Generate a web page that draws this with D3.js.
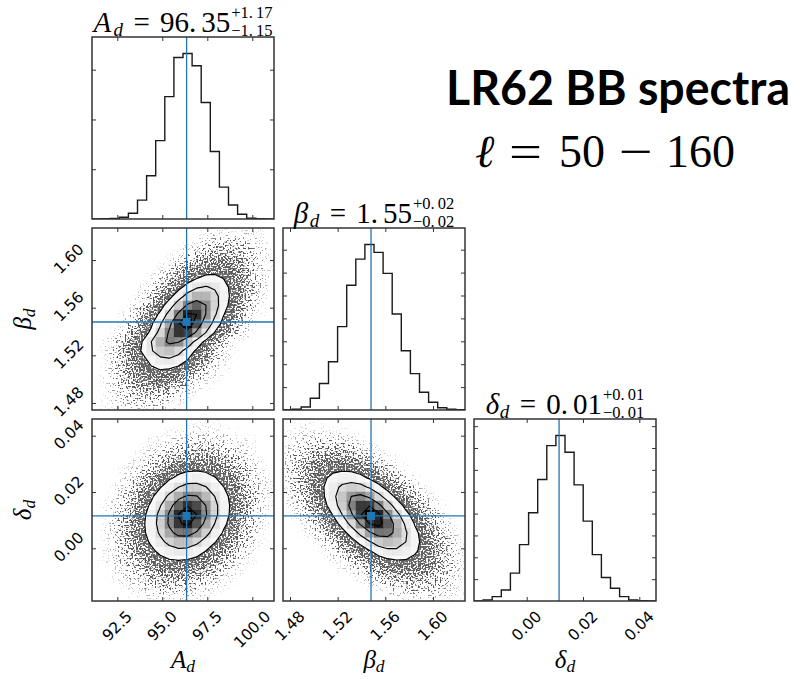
<!DOCTYPE html>
<html><head><meta charset="utf-8">
<script src="https://cdn.jsdelivr.net/npm/d3@7/dist/d3.min.js"></script>
<style>
html,body{margin:0;padding:0;background:#fff;}
svg{display:block;}
</style></head><body>
<svg id="chart" width="800" height="679" xmlns="http://www.w3.org/2000/svg"></svg>
<script>
// ====================== DATA ======================
const paramSymbols = ["A", "β", "δ"];
const paramSubscript = "d";
const q50Labels = ["96.35", "1.55", "0.01"];
const plusLabels = ["1.17", "0.02", "0.01"];
const minusLabels = ["1.15", "0.02", "0.01"];
const medians = [96.35, 1.548, 0.0115];

// axis ranges (also the histogram bin ranges, 20 bins each)
const rangeA = [91.094, 101.205];
const rangeBeta = [1.4741, 1.6269];
const rangeDelta = [-0.01872, 0.04593];

const ticksA = [92.5, 95.0, 97.5, 100.0];
const ticksBeta = [1.48, 1.52, 1.56, 1.60];
const ticksDelta = [0.00, 0.02, 0.04];
const tickLabelsA = ["92.5", "95.0", "97.5", "100.0"];
const tickLabelsBeta = ["1.48", "1.52", "1.56", "1.60"];
const tickLabelsDelta = ["0.00", "0.02", "0.04"];

// 1D marginal histograms (sample counts per bin)
const histA = [0, 25, 50, 175, 575, 1900, 4350, 7875, 12300, 16225, 16625, 15400, 11700, 6775, 3200, 1400, 475, 75, 25, 0];
const histBeta = [30, 60, 260, 1030, 2310, 4210, 7280, 10900, 13180, 14450, 13770, 11930, 8390, 5180, 3180, 1550, 680, 200, 60, 30];
const histDelta = [0, 90, 400, 1010, 2550, 5160, 8080, 11120, 14220, 15140, 13610, 10630, 7310, 4240, 2150, 1170, 400, 90, 30, 0];
const histTicksA = [5000, 10000, 15000];
const histTicksBeta = [2000, 4000, 6000, 8000, 10000, 12000, 14000];
const histTicksDelta = [2000, 4000, 6000, 8000, 10000, 12000, 14000, 16000];

// 2D histograms (20x20 counts). Rows listed from top (highest y) to bottom, columns left to right.
const gridA_Beta = [
[0,0,0,0,0,0,0,0,0,0,0,0,1,2,2,3,3,2,1,0],
[0,0,0,0,0,0,0,0,0,0,0,2,4,8,11,11,8,5,2,1],
[0,0,0,0,0,0,0,0,0,1,3,9,20,31,37,33,22,11,4,1],
[0,0,0,0,0,0,0,0,1,5,17,41,76,104,105,80,45,19,6,1],
[0,0,0,0,0,0,0,1,7,25,70,148,232,271,236,153,74,26,7,1],
[0,0,0,0,0,0,1,7,29,95,232,420,566,567,423,235,98,30,7,1],
[0,0,0,0,0,1,6,28,106,297,618,958,1104,947,604,287,102,27,5,1],
[0,0,0,0,0,4,22,95,306,733,1308,1737,1716,1263,691,282,85,19,3,0],
[0,0,0,0,2,14,69,257,708,1452,2215,2516,2125,1337,626,218,56,11,2,0],
[0,0,0,1,7,41,173,549,1297,2281,2985,2907,2107,1135,456,136,30,5,1,0],
[0,0,0,3,20,96,348,945,1909,2871,3212,2675,1658,765,262,67,13,2,0,0],
[0,0,1,7,42,177,553,1287,2230,2874,2758,1969,1047,414,122,27,4,1,0,0],
[0,1,6,35,145,449,1035,1777,2271,2160,1528,805,316,92,20,3,0,0,0,0],
[0,2,11,52,184,490,970,1428,1565,1276,775,350,118,29,5,1,0,0,0,0],
[0,1,7,32,112,296,581,848,921,745,448,201,67,17,3,0,0,0,0,0],
[0,1,8,32,99,223,375,469,437,303,156,60,17,4,1,0,0,0,0,0],
[0,2,8,27,70,134,193,207,165,98,43,14,3,1,0,0,0,0,0,0],
[0,1,6,17,39,64,79,73,50,25,10,3,1,0,0,0,0,0,0,0],
[0,1,4,9,17,25,26,20,12,5,2,0,0,0,0,0,0,0,0,0],
[0,1,2,4,6,8,7,5,2,1,0,0,0,0,0,0,0,0,0,0]];

const gridA_Delta = [
[0,0,0,0,0,0,0,0,0,0,0,1,1,1,0,0,0,0,0,0],
[0,0,0,0,0,0,0,0,1,1,2,3,3,2,2,1,0,0,0,0],
[0,0,0,0,0,0,1,2,3,6,9,11,11,9,6,3,2,1,0,0],
[0,0,0,0,0,1,3,7,14,24,34,40,39,30,20,11,5,2,0,0],
[0,0,0,0,1,3,9,23,47,79,108,122,113,86,54,27,12,4,1,0],
[0,0,0,1,3,10,29,68,134,217,287,312,279,205,123,61,25,8,2,0],
[0,0,0,2,8,26,74,171,323,502,641,672,579,410,238,113,44,14,4,1],
[0,0,1,4,18,60,161,359,655,980,1206,1217,1010,688,385,177,67,21,5,1],
[0,0,2,9,36,114,297,634,1114,1606,1903,1851,1479,972,522,231,84,25,6,1],
[0,1,4,16,60,182,456,943,1594,2215,2526,2367,1822,1153,598,256,89,26,6,1],
[0,1,5,23,82,243,589,1170,1908,2560,2819,2548,1894,1156,578,238,80,22,5,1],
[0,1,7,28,97,276,640,1227,1930,2493,2644,2305,1649,969,467,186,60,16,3,1],
[0,2,7,29,96,262,586,1082,1641,2041,2085,1751,1207,682,318,122,38,10,2,0],
[0,1,6,25,79,209,452,803,1172,1405,1382,1117,742,404,209,79,25,6,1,0],
[0,1,5,18,55,139,290,498,702,811,771,601,385,203,88,31,9,2,0,0],
[0,1,3,11,32,79,158,261,354,395,361,272,167,85,35,12,3,1,0,0],
[0,0,2,6,16,37,72,115,150,161,142,103,61,30,12,4,1,0,0,0],
[0,0,1,2,7,15,28,43,54,55,47,33,19,9,3,1,0,0,0,0],
[0,0,0,1,2,5,9,13,16,16,13,9,5,2,1,0,0,0,0,0],
[0,0,0,0,1,1,2,3,4,4,3,2,1,0,0,0,0,0,0,0]];

const gridBeta_Delta = [
[0,0,1,1,0,0,0,0,0,0,0,0,0,0,0,0,0,0,0,0],
[1,2,2,3,3,2,1,1,0,0,0,0,0,0,0,0,0,0,0,0],
[2,4,8,11,12,11,8,4,2,1,0,0,0,0,0,0,0,0,0,0],
[4,10,20,32,41,43,35,23,12,5,2,0,0,0,0,0,0,0,0,0],
[6,17,39,73,109,130,123,93,56,27,10,3,1,0,0,0,0,0,0,0],
[6,22,60,129,222,305,335,293,205,114,51,18,5,1,0,0,0,0,0,0],
[6,22,70,175,348,553,701,709,573,369,189,78,25,7,1,0,0,0,0,0],
[4,17,63,181,420,771,1132,1326,1239,924,550,261,99,30,7,1,0,0,0,0],
[2,11,44,147,391,831,1410,1908,2061,1776,1220,670,294,102,28,6,1,0,0,0],
[1,5,23,90,280,684,1347,2113,2643,2637,2099,1334,676,274,88,23,5,1,0,0],
[0,2,10,43,155,441,1000,1810,2616,3015,2773,2036,1193,556,207,62,15,3,0,0],
[0,0,3,16,66,217,572,1198,1998,2661,2829,2399,1622,877,377,129,36,8,1,0],
[0,0,1,5,22,82,250,606,1171,1806,2224,2185,1711,1069,533,213,67,17,3,1],
[0,0,0,1,6,24,85,237,532,948,1350,1531,1386,1002,578,265,98,29,7,1],
[0,0,0,0,1,5,22,71,185,382,629,827,867,725,484,258,109,37,10,2],
[0,0,0,0,0,1,4,17,50,119,227,344,417,403,311,191,94,37,12,3],
[0,0,0,0,0,0,1,3,10,29,63,111,155,173,155,110,62,28,10,3],
[0,0,0,0,0,0,0,0,2,5,13,27,44,57,59,49,32,17,7,2],
[0,0,0,0,0,0,0,0,0,1,2,5,10,15,17,17,13,8,4,1],
[0,0,0,0,0,0,0,0,0,0,0,1,2,3,4,4,4,3,2,1]];

// contour mass levels (0.5, 1, 1.5, 2 sigma)
const contourLevels = [0.118, 0.393, 0.675, 0.865];

const bigTitle = "LR62 BB spectra";
const subTitleTokens = ["ℓ", "=", "50", "−", "160"];

// ====================== LAYOUT / STYLE ======================
const P = 182, STEP = 191;
const X0 = [0, 1, 2].map(k => 92 + k * STEP);
const Y0 = [0, 1, 2].map(k => 37 + k * STEP);
const NB = 20;
const FRAME = "#333";
const BLUE = "#1f77b4";
const MATH = "Liberation Serif, DejaVu Serif, serif";
const SANS = "DejaVu Sans, sans-serif";

const ranges = [rangeA, rangeBeta, rangeDelta];
const ticks = [ticksA, ticksBeta, ticksDelta];
const tickLabels = [tickLabelsA, tickLabelsBeta, tickLabelsDelta];
const hists = [histA, histBeta, histDelta];
const histTicks = [histTicksA, histTicksBeta, histTicksDelta];

const svg = d3.select("#chart");
const defs = svg.append("defs");
// cloud of samples: blurred density (= dot coverage) turned into grey dots
const cf = defs.append("filter").attr("id", "cloudTex")
  .attr("filterUnits", "userSpaceOnUse").attr("x", 0).attr("y", 0).attr("width", 800).attr("height", 679);
cf.append("feGaussianBlur").attr("in", "SourceGraphic").attr("stdDeviation", 3.4).attr("result", "dens");
cf.append("feTurbulence").attr("type", "fractalNoise").attr("baseFrequency", 0.6)
  .attr("numOctaves", 1).attr("seed", 11).attr("result", "noise");
cf.append("feColorMatrix").attr("in", "noise").attr("type", "matrix")
  .attr("values", "0 0 0 0 0  0 0 0 0 0  0 0 0 0 0  3 0 0 0 -1").attr("result", "mask");
cf.append("feComposite").attr("in", "dens").attr("in2", "mask").attr("operator", "arithmetic")
  .attr("k1", 0).attr("k2", 4).attr("k3", 4).attr("k4", -4).attr("result", "dots");
cf.append("feComponentTransfer").attr("in", "dots")
  .append("feFuncA").attr("type", "linear").attr("slope", 0.66).attr("intercept", 0);

const xScale = k => d3.scaleLinear().domain(ranges[k]).range([X0[k], X0[k] + P]);
const yScaleParam = (row, k) => d3.scaleLinear().domain(ranges[k]).range([Y0[row] + P, Y0[row]]);

function clipFor(row, col) {
  const id = `clip-${row}-${col}`;
  defs.append("clipPath").attr("id", id).append("rect")
    .attr("x", X0[col]).attr("y", Y0[row]).attr("width", P).attr("height", P);
  return `url(#${id})`;
}

function contourThresholds(values) {
  const flat = values.slice().sort((a, b) => b - a);
  const total = d3.sum(flat);
  let cum = 0;
  const sm = flat.map(v => (cum += v) / total);
  return contourLevels.map(v0 => {
    let idx = -1;
    for (let i = 0; i < sm.length; i++) if (sm[i] <= v0) idx = i;
    return idx >= 0 ? flat[idx] : flat[0];
  }).sort((a, b) => a - b);
}

function drawTicks(g, row, col, xs, xt, ys, yt) {
  const x0 = X0[col], y0 = Y0[row];
  const style = sel => {
    sel.select(".domain").remove();
    sel.selectAll(".tick line").attr("stroke", FRAME).attr("stroke-width", 1);
    sel.selectAll(".tick text").remove();
  };
  const none = () => "";
  g.append("g").attr("transform", `translate(0,${y0 + P})`)
    .call(d3.axisBottom(xs).tickValues(xt).tickSizeInner(-4).tickSizeOuter(0).tickFormat(none)).call(style);
  g.append("g").attr("transform", `translate(0,${y0})`)
    .call(d3.axisTop(xs).tickValues(xt).tickSizeInner(-4).tickSizeOuter(0).tickFormat(none)).call(style);
  g.append("g").attr("transform", `translate(${x0},0)`)
    .call(d3.axisLeft(ys).tickValues(yt).tickSizeInner(-4).tickSizeOuter(0).tickFormat(none)).call(style);
  g.append("g").attr("transform", `translate(${x0 + P},0)`)
    .call(d3.axisRight(ys).tickValues(yt).tickSizeInner(-4).tickSizeOuter(0).tickFormat(none)).call(style);
  g.append("rect").attr("x", x0).attr("y", y0).attr("width", P).attr("height", P)
    .attr("fill", "none").attr("stroke", FRAME).attr("stroke-width", 1.5);
}

// dot coverage as a function of samples per bin
const cloudAlpha = c => 0.97 * (1 - Math.exp(-Math.pow(c / 90, 0.6)));

// ---------- 2D panels ----------
function draw2D(row, col, grid) {
  const xs = xScale(col), ys = yScaleParam(row, row);
  const x0 = X0[col], y0 = Y0[row], cell = P / NB;
  const g = svg.append("g");
  const content = g.append("g").attr("clip-path", clipFor(row, col));
  const values = grid.flat();
  const hmax = d3.max(values);

  // scatter cloud (density of samples)
  const cloud = content.append("g").attr("filter", "url(#cloudTex)");
  grid.forEach((r, j) => r.forEach((c, i) => {
    if (c <= 0) return;
    cloud.append("rect").attr("x", x0 + i * cell - 0.2).attr("y", y0 + j * cell - 0.2)
      .attr("width", cell + 0.4).attr("height", cell + 0.4)
      .attr("fill", "#000").attr("fill-opacity", cloudAlpha(c));
  }));

  const V = contourThresholds(values);
  const contours = d3.contours().size([NB, NB]).thresholds(V)(values);
  const path = d3.geoPath(d3.geoIdentity().scale(cell).translate([x0, y0]));

  // white fill inside the outermost contour
  content.append("path").attr("d", path(contours[0])).attr("fill", "#fff").attr("stroke", "none");

  // density map
  grid.forEach((r, j) => r.forEach((c, i) => {
    if (c <= 0) return;
    const f = c / hmax;
    const v = Math.round(255 * (1 - f));
    content.append("rect").attr("x", x0 + i * cell).attr("y", y0 + j * cell)
      .attr("width", cell + 0.3).attr("height", cell + 0.3)
      .attr("fill", `rgb(${v},${v},${v})`).attr("fill-opacity", f);
  }));

  // contour lines
  content.selectAll("path.ct").data(contours).join("path").attr("class", "ct")
    .attr("d", d => path(d)).attr("fill", "none").attr("stroke", "#000").attr("stroke-width", 1.15)
    .attr("stroke-linejoin", "round");

  // median lines and marker
  const mx = xs(medians[col]), my = ys(medians[row]);
  content.append("line").attr("x1", mx).attr("x2", mx).attr("y1", y0).attr("y2", y0 + P)
    .attr("stroke", BLUE).attr("stroke-width", 1.3);
  content.append("line").attr("x1", x0).attr("x2", x0 + P).attr("y1", my).attr("y2", my)
    .attr("stroke", BLUE).attr("stroke-width", 1.3);
  content.append("rect").attr("x", mx - 4).attr("y", my - 4).attr("width", 8).attr("height", 8)
    .attr("fill", BLUE);

  drawTicks(g, row, col, xs, ticks[col], ys, ticks[row]);
}

// ---------- 1D histograms ----------
function drawHist(k) {
  const xs = xScale(k);
  const counts = hists[k];
  const ys = d3.scaleLinear().domain([0, 1.1 * d3.max(counts)]).range([Y0[k] + P, Y0[k]]);
  const edges = d3.range(NB + 1).map(i => ranges[k][0] + i * (ranges[k][1] - ranges[k][0]) / NB);
  const pts = [[edges[0], 0]];
  counts.forEach((c, i) => { pts.push([edges[i], c]); pts.push([edges[i + 1], c]); });
  pts.push([edges[NB], 0]);
  const g = svg.append("g");
  const content = g.append("g").attr("clip-path", clipFor(k, k));
  content.append("path").attr("d", d3.line().x(d => xs(d[0])).y(d => ys(d[1]))(pts))
    .attr("fill", "none").attr("stroke", "#1a1a1a").attr("stroke-width", 1.4);
  const mx = xs(medians[k]);
  content.append("line").attr("x1", mx).attr("x2", mx).attr("y1", Y0[k]).attr("y2", Y0[k] + P)
    .attr("stroke", BLUE).attr("stroke-width", 1.3);
  drawTicks(g, k, k, xs, ticks[k], ys, histTicks[k]);
}

draw2D(1, 0, gridA_Beta);
draw2D(2, 0, gridA_Delta);
draw2D(2, 1, gridBeta_Delta);
[0, 1, 2].forEach(drawHist);

// ---------- tick labels (rotated 45°) ----------
const LBL = 15.5, HH = 11;
function rotLabel(txt) {
  return svg.append("text").attr("text-anchor", "middle").attr("dominant-baseline", "central")
    .attr("font-family", SANS).attr("font-size", LBL).attr("fill", "#000").text(txt);
}
[0, 1, 2].forEach(col => {
  const xs = xScale(col);
  ticks[col].forEach((t, i) => {
    const el = rotLabel(tickLabels[col][i]);
    const w = el.node().getComputedTextLength();
    const half = (w + HH) / (2 * Math.SQRT2);
    el.attr("transform", `translate(${xs(t)},${Y0[2] + P + 9 + half}) rotate(-45)`);
  });
});
[1, 2].forEach(row => {
  const ys = yScaleParam(row, row);
  ticks[row].forEach((t, i) => {
    const el = rotLabel(tickLabels[row][i]);
    const w = el.node().getComputedTextLength();
    const half = (w + HH) / (2 * Math.SQRT2);
    el.attr("transform", `translate(${X0[0] - 7 - half},${ys(t) - 1}) rotate(-45)`);
  });
});

// ---------- axis labels ----------
function mathLabel(sym, size) {
  const t = svg.append("text").attr("font-family", MATH).attr("font-style", "italic")
    .attr("font-size", size).attr("text-anchor", "middle").attr("fill", "#000");
  t.append("tspan").text(sym);
  t.append("tspan").attr("font-size", size * 0.7).attr("dy", 4).text(paramSubscript);
  return t;
}
[0, 1, 2].forEach(k => {
  mathLabel(paramSymbols[k], 25).attr("transform", `translate(${X0[k] + P / 2},668)`);
});
[1, 2].forEach(k => {
  mathLabel(paramSymbols[k], 25).attr("transform", `translate(31,${Y0[k] + P / 2}) rotate(-90)`);
});

// ---------- titles above the histograms ----------
function drawTitle(k) {
  const g = svg.append("g");
  let x = 0;
  const piece = (txt, size, dy, italic, dotGap) => {
    const t = g.append("text").attr("x", x).attr("y", dy).attr("font-family", MATH)
      .attr("font-size", size).attr("fill", "#000");
    if (italic) t.attr("font-style", "italic");
    if (dotGap && txt.includes(".")) {
      const parts = txt.split(".");
      t.append("tspan").text(parts[0] + ".");
      t.append("tspan").attr("dx", dotGap).text(parts[1]);
    } else t.text(txt);
    return t;
  };
  const wOf = t => t.node().getBBox().width;
  let t = piece(paramSymbols[k], 29, 0, true); x += wOf(t);
  t = piece(paramSubscript, 19, 4, true); x += wOf(t) + 10;
  t = piece("=", 29, 0, false); x += wOf(t) + 10;
  t = piece(q50Labels[k], 29, 0, false, 5); x += wOf(t) + 1;
  const sup = piece("+" + plusLabels[k], 16.5, -14, false, 3);
  const sub = piece("−" + minusLabels[k], 16.5, 4, false, 3);
  x += Math.max(wOf(sup), wOf(sub));
  g.attr("transform", `translate(${X0[k] + P / 2 - x / 2},${Y0[k] - 5})`);
}
[0, 1, 2].forEach(drawTitle);

// ---------- big annotation ----------
svg.append("text").attr("x", 446).attr("y", 105).attr("font-family", "Lato, Open Sans, sans-serif")
  .attr("font-weight", 700).attr("font-size", 48).attr("fill", "#000")
  .attr("textLength", 344).attr("lengthAdjust", "spacingAndGlyphs").text(bigTitle);

// ℓ = 50 − 160 (math-style spacing)
const subX = [475, 509, 559, 619, 666];
const subLen = [null, 33, null, 34, null];
subTitleTokens.forEach((tok, i) => {
  const t = svg.append("text").attr("x", subX[i]).attr("y", 166.5).attr("font-family", MATH)
    .attr("font-size", 46).attr("fill", "#000").text(tok);
  if (i === 0) t.attr("font-style", "italic");
  if (subLen[i]) t.attr("textLength", subLen[i]).attr("lengthAdjust", "spacingAndGlyphs");
});
</script>
</body></html>
